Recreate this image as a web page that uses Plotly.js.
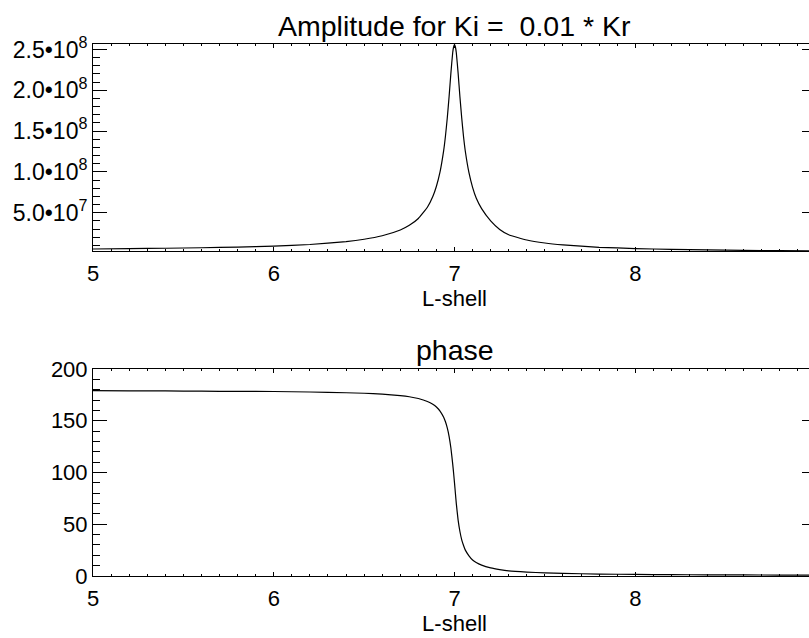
<!DOCTYPE html>
<html>
<head>
<meta charset="utf-8">
<script src="https://cdn.plot.ly/plotly-3.0.1.min.js"></script>
<style>
html,body{margin:0;padding:0;overflow:hidden;background:#fff;}
#chart{width:830px;height:638px;}
</style>
</head>
<body>
<div id="chart"></div>
<script>
// L-shell sample positions
const lshell = [5.0,5.2,5.4,5.6,5.8,6.0,6.2,6.4,6.5,6.6,6.7,6.75,6.8,6.85,6.88,6.9,6.92,6.94,6.95,6.96,6.97,6.98,6.99,6.995,7.0,
  7.005,7.01,7.02,7.03,7.04,7.05,7.06,7.08,7.1,7.12,7.15,7.2,7.25,7.3,7.4,7.5,7.6,7.8,8.0,8.2,8.4,8.6,8.8,9.0];
// amplitude values
const amplitude = [5.5e6,5.9e6,6.4e6,7.0e6,7.8e6,9.0e6,1.10e7,1.45e7,1.74e7,2.17e7,2.88e7,3.45e7,4.29e7,5.66e7,6.98e7,8.24e7,1.00e8,1.26e8,1.44e8,1.66e8,1.92e8,2.21e8,2.46e8,2.53e8,2.56e8,
  2.53e8,2.46e8,2.21e8,1.92e8,1.66e8,1.43e8,1.25e8,9.9e7,8.1e7,6.8e7,5.5e7,4.0e7,2.95e7,2.3e7,1.65e7,1.28e7,1.05e7,7.6e6,6.0e6,5.0e6,4.3e6,3.8e6,3.4e6,3.1e6];
// phase values (degrees)
const phase = [179.1,179.0,178.9,178.6,178.4,178.3,177.8,177.1,176.6,175.7,174.3,173.2,171.5,168.7,166.0,163.3,159.4,153.4,149.0,143.1,135.0,123.7,108.4,99.5,90.0,
  80.0,70.0,54.0,43.0,35.0,29.5,25.0,19.5,15.5,13.0,10.5,7.8,6.2,5.0,3.8,3.0,2.5,1.9,1.5,1.3,1.1,1.0,0.9,0.8];

const xTickVals = [5,6,7,8];
const ampTickVals = [5e7,1e8,1.5e8,2e8,2.5e8];
const ampTickText = ['5.0•10<sup>7</sup>','1.0•10<sup>8</sup>','1.5•10<sup>8</sup>','2.0•10<sup>8</sup>','2.5•10<sup>8</sup>'];
const phaseTickVals = [0,50,100,150,200];

const FONT = 'Liberation Sans, Arial, sans-serif';

const traces = [
  {x: lshell, y: amplitude, type:'scatter', mode:'lines', line:{color:'#000', width:1.2, shape:'spline', smoothing:0.4}, xaxis:'x', yaxis:'y', hoverinfo:'skip'},
  {x: lshell, y: phase, type:'scatter', mode:'lines', line:{color:'#000', width:1.2, shape:'spline', smoothing:0.4}, xaxis:'x2', yaxis:'y2', hoverinfo:'skip'}
];

function xax(anchor){
  return {
    anchor: anchor, range:[5,9], tickvals: xTickVals,
    ticks:'inside', ticklen:4, tickwidth:1, tickcolor:'#000',
    minor:{dtick:0.1, tick0:5, ticks:'inside', ticklen:2, tickwidth:1, tickcolor:'#000'},
    showline:true, linecolor:'#000', linewidth:1, mirror:'allticks',
    showgrid:false, zeroline:false,
    tickfont:{family:FONT, size:22, color:'#000'},
    ticklabelstandoff: 3,
    title:{text:'L-shell', font:{family:FONT, size:22, color:'#000'}, standoff:2}
  };
}

const layout = {
  width: 830, height: 638,
  margin:{l:93, r:14, t:44, b:62},
  paper_bgcolor:'#fff', plot_bgcolor:'#fff',
  showlegend:false,
  font:{family:FONT, color:'#000'},
  xaxis: xax('y'),
  xaxis2: xax('y2'),
  yaxis: {
    domain:[0.611,1], anchor:'x', range:[3.1e6,2.567e8],
    tickvals: ampTickVals, ticktext: ampTickText,
    ticks:'inside', ticklen:14, tickwidth:1, tickcolor:'#000',
    minor:{dtick:1e7, tick0:0, ticks:'inside', ticklen:7, tickwidth:1, tickcolor:'#000'},
    showline:true, linecolor:'#000', linewidth:1, mirror:'allticks',
    showgrid:false, zeroline:false,
    tickfont:{family:FONT, size:23, color:'#000'}
  },
  yaxis2: {
    domain:[0,0.389], anchor:'x2', range:[0,200],
    tickvals: phaseTickVals,
    ticks:'inside', ticklen:14, tickwidth:1, tickcolor:'#000',
    minor:{dtick:10, tick0:0, ticks:'inside', ticklen:7, tickwidth:1, tickcolor:'#000'},
    showline:true, linecolor:'#000', linewidth:1, mirror:'allticks',
    showgrid:false, zeroline:false,
    tickfont:{family:FONT, size:22, color:'#000'}
  },
  annotations:[
    {text:'Amplitude for Ki =  0.01 * Kr', xref:'paper', yref:'paper', x:0.5, y:1, yshift:0, xanchor:'center', yanchor:'bottom', showarrow:false, font:{family:FONT, size:28.5, color:'#000'}},
    {text:'phase', xref:'paper', yref:'paper', x:0.5, y:0.389, yshift:1, xanchor:'center', yanchor:'bottom', showarrow:false, font:{family:FONT, size:28.5, color:'#000'}}
  ]
};

Plotly.newPlot('chart', traces, layout, {staticPlot:true, displayModeBar:false});
</script>
</body>
</html>
